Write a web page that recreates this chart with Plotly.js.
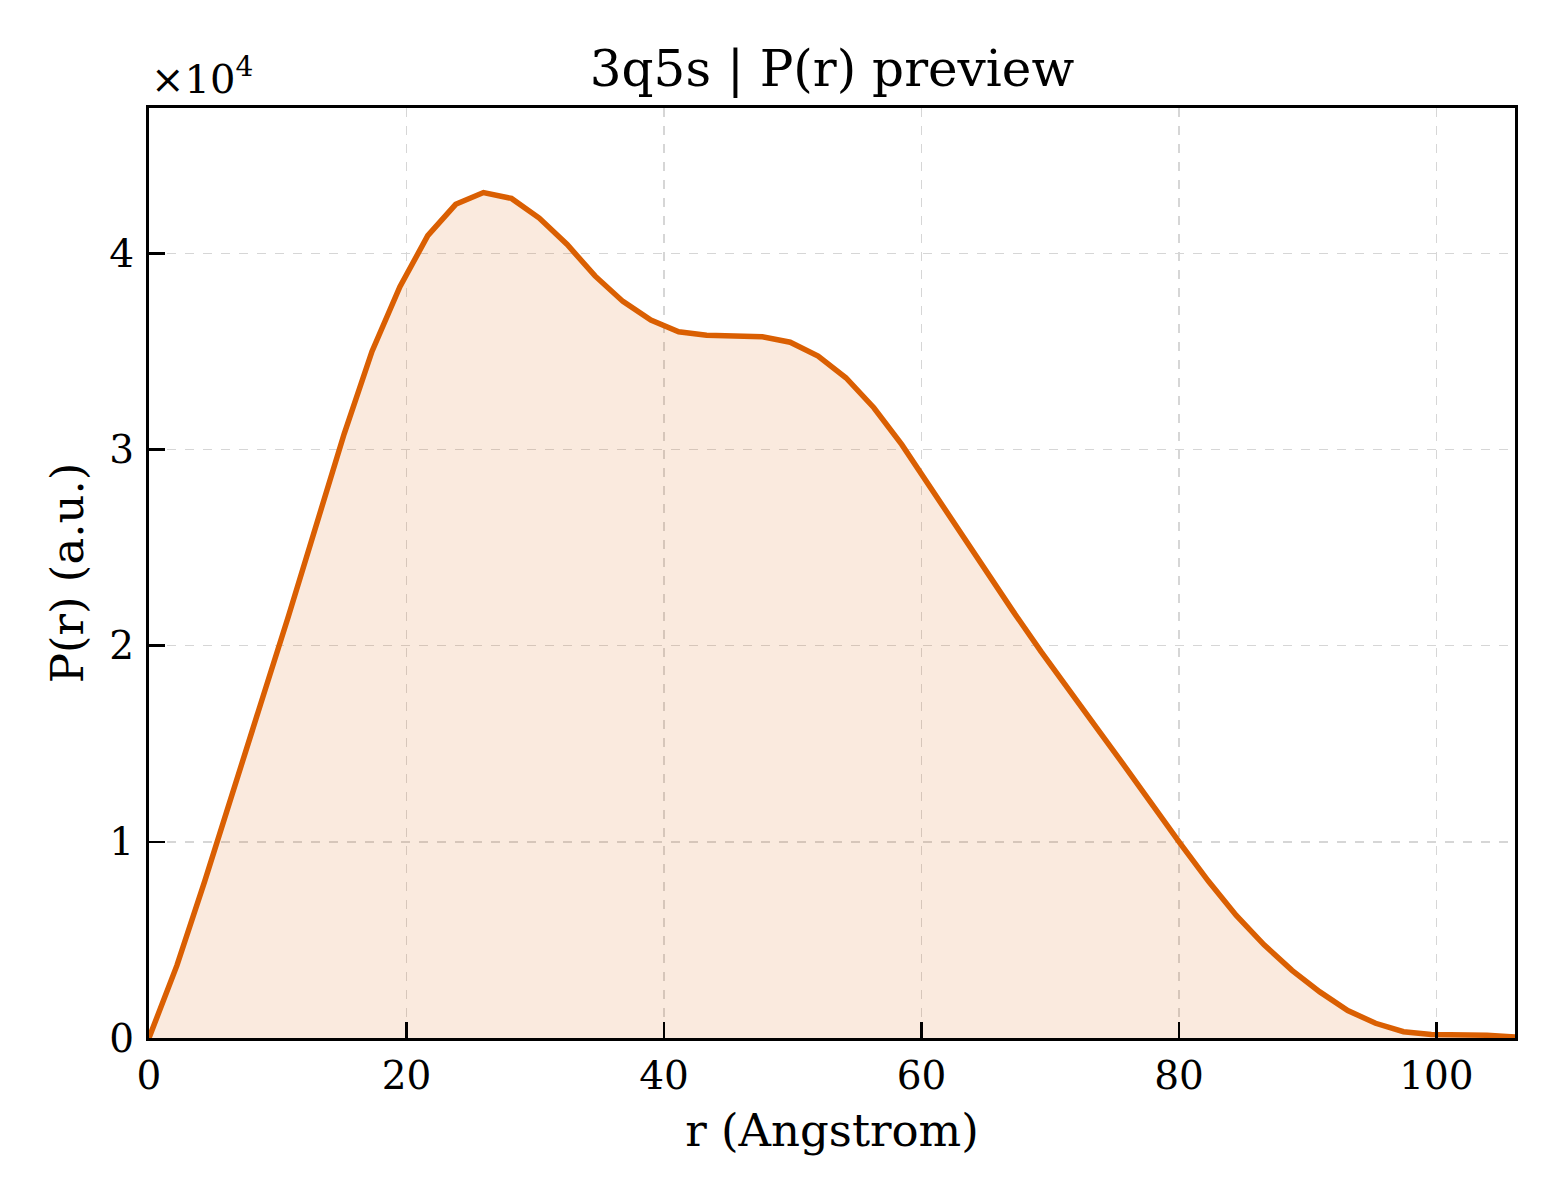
<!DOCTYPE html>
<html>
<head>
<meta charset="utf-8">
<script src="https://cdn.plot.ly/plotly-3.0.1.min.js"></script>
<style>
  body { margin: 0; background: #fff; }
  #plot_pr { width: 1560px; height: 1200px; }
</style>
</head>
<body>
<div id="plot_pr"></div>
<script>
var r_vals = [0, 2.17, 4.33, 6.50, 8.66, 10.83, 12.99, 15.16, 17.32, 19.49,
  21.65, 23.82, 25.98, 28.15, 30.31, 32.48, 34.64, 36.81, 38.98, 41.14,
  43.31, 45.47, 47.64, 49.80, 51.97, 54.13, 56.30, 58.46, 60.63, 62.79,
  64.96, 67.12, 69.29, 71.46, 73.62, 75.79, 77.95, 80.12, 82.28, 84.45,
  86.61, 88.78, 90.94, 93.11, 95.27, 97.44, 99.60, 101.77, 103.93, 106.10];

var pr_vals = [0, 3700, 8000, 12400, 17000, 21500, 26200, 30800, 35000, 38300,
  40900, 42500, 43100, 42800, 41800, 40450, 38850, 37550, 36600, 36000,
  35830, 35800, 35750, 35470, 34760, 33660, 32130, 30260, 28130, 25900,
  23800, 21750, 19700, 17700, 15800, 13850, 11850, 9900, 8000, 6250,
  4750, 3450, 2350, 1400, 750, 320, 180, 160, 140, 50];

var y_ticks = [0, 10000, 20000, 30000, 40000];
var y_labels = ['0', '1', '2', '3', '4'];
var x_ticks = [0, 20, 40, 60, 80, 100];

var line_col = '#DA5F02';
var font_fam = 'DejaVu Serif, Liberation Serif, serif';

var trace_pr = {
  x: r_vals,
  y: pr_vals,
  type: 'scatter',
  mode: 'lines',
  fill: 'tozeroy',
  fillcolor: 'rgba(218,95,2,0.13)',
  line: { color: line_col, width: 5.5 },
  showlegend: false
};

var y_max = Math.max.apply(null, pr_vals) * 1.1;

var layout = {
  width: 1560,
  height: 1200,
  paper_bgcolor: '#ffffff',
  plot_bgcolor: '#ffffff',
  font: { family: font_fam, color: '#000', size: 40 },
  margin: { l: 149, r: 45, t: 108, b: 162, pad: 0 },
  title: {
    text: '3q5s | P(r) preview',
    font: { family: font_fam, size: 50, color: '#000' },
    xref: 'paper', x: 0.5, xanchor: 'center',
    y: 1 - 68 / 1200, yanchor: 'middle'
  },
  xaxis: {
    range: [0, r_vals[r_vals.length - 1]],
    tickvals: x_ticks,
    ticks: 'inside', ticklen: 16, tickwidth: 2.5, tickcolor: '#000',
    ticklabelstandoff: 1,
    showline: true, linecolor: '#000', linewidth: 3, mirror: true,
    showgrid: true, gridcolor: '#d6d6d6', gridwidth: 1.5, griddash: 'dash',
    zeroline: false,
    tickfont: { family: font_fam, size: 39 },
    title: { text: 'r (Angstrom)', font: { family: font_fam, size: 45 }, standoff: 18 }
  },
  yaxis: {
    range: [0, y_max],
    tickvals: y_ticks,
    ticktext: y_labels,
    ticks: 'inside', ticklen: 16, tickwidth: 2.5, tickcolor: '#000',
    ticklabelstandoff: 4,
    showline: true, linecolor: '#000', linewidth: 3, mirror: true,
    showgrid: true, gridcolor: '#d6d6d6', gridwidth: 1.5, griddash: 'dash',
    zeroline: false,
    tickfont: { family: font_fam, size: 39 },
    title: { text: 'P(r) (a.u.)', font: { family: font_fam, size: 45 }, standoff: 12 }
  },
  annotations: [{
    text: '×10<sup>4</sup>',
    xref: 'paper', yref: 'paper',
    x: 0, y: 1, xanchor: 'left', yanchor: 'bottom',
    yshift: 4,
    showarrow: false,
    font: { family: font_fam, size: 40, color: '#000' }
  }]
};

Plotly.newPlot('plot_pr', [trace_pr], layout, { staticPlot: true });
</script>
</body>
</html>
